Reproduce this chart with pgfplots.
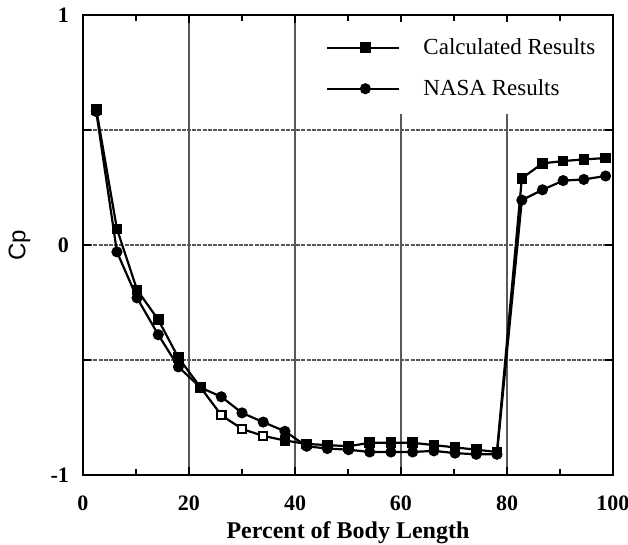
\documentclass[border=0pt]{standalone}
\usepackage{fontspec}
\setmainfont{Liberation Serif}
\newfontfamily\hv{Liberation Sans}
\usepackage{pgfplots}
\usepackage{pgfplotstable}
\pgfplotsset{compat=1.18}
\pgfplotstableread{
x y
2.5 0.59
6.4 0.07
10.2 -0.195
14.2 -0.325
18.0 -0.49
22.2 -0.62
26.1 -0.74
30.0 -0.80
34.0 -0.83
38.1 -0.85
42.2 -0.865
46.1 -0.87
50.1 -0.875
54.1 -0.86
58.1 -0.86
62.2 -0.86
66.2 -0.87
70.2 -0.88
74.2 -0.89
78.1 -0.90
82.8 0.29
86.7 0.355
90.6 0.365
94.5 0.372
98.6 0.378
}\calc
\pgfplotstableread{
x y
26.1 -0.74
30.0 -0.80
34.0 -0.83
}\calcopen
\pgfplotstableread{
x y
2.5 0.58
6.4 -0.03
10.2 -0.23
14.2 -0.39
18.0 -0.53
22.2 -0.62
26.1 -0.66
30.0 -0.73
34.0 -0.77
38.1 -0.81
42.2 -0.875
46.1 -0.885
50.1 -0.89
54.1 -0.90
58.1 -0.90
62.2 -0.90
66.2 -0.895
70.2 -0.905
74.2 -0.91
78.1 -0.91
82.8 0.195
86.7 0.24
90.6 0.28
94.5 0.285
98.6 0.30
}\nasa
\begin{document}
\begin{tikzpicture}
\path[use as bounding box] (-41.5pt,-35pt) rectangle (272.5pt,237.5pt);
\begin{axis}[
 at={(0pt,0pt)}, anchor=south west,
 scale only axis, width=265pt, height=230pt,
 xmin=0, xmax=100, ymin=-1, ymax=1,
 xtick={0,20,...,100}, minor xtick={10,30,50,70,90},
 ytick={-1,-0.5,0,0.5,1}, yticklabels={-1,,0,,1},
 tick align=inside, major tick length=4pt, minor tick length=3pt,
 grid=major,
 x grid style={black!65, line width=0.9pt},
 y grid style={black!65, line width=0.9pt, dash pattern=on 2pt off 0.6pt},
 axis line style={line width=1.1pt},
 every tick/.style={black, line width=0.9pt},
 tick label style={font=\fontsize{11}{13}\selectfont\bfseries},
 /pgf/number format/assume math mode=true,
 xticklabel style={yshift=-7pt},
 yticklabel style={xshift=-3.5pt},
 xlabel={\textbf{Percent of Body Length}}, ylabel={\hv Cp},
 xlabel style={at={(axis description cs:0.5,-0.125)}, anchor=center},
 ylabel style={at={(axis description cs:-0.12,0.5)}, anchor=center},
 label style={font=\fontsize{12}{14}\selectfont},
 legend style={at={(0.99,0.985)}, anchor=north east, draw=none, fill=white,
   font=\fontsize{11.5}{13}\selectfont, row sep=7pt, column sep=9.5pt,
   inner xsep=4pt, inner ysep=6pt, cells={anchor=west}},
 legend image code/.code={\draw[mark repeat=2,mark phase=2,#1] plot coordinates {(0pt,0pt) (19pt,0pt) (36pt,0pt)};},
]
\addplot[black, line width=1.1pt, mark=square*, mark size=2.1pt, mark options={solid, fill=black}] table {\calc};
\addlegendentry{Calculated Results}
\addplot[black, line width=1.1pt, mark=*, mark size=2.2pt, mark options={solid, fill=black}] table {\nasa};
\addlegendentry{NASA Results}
\addplot[forget plot, only marks, black, mark=square*, mark size=2.1pt, mark options={fill=white, line width=1.1pt}] table {\calcopen};
\end{axis}
\end{tikzpicture}
\end{document}
